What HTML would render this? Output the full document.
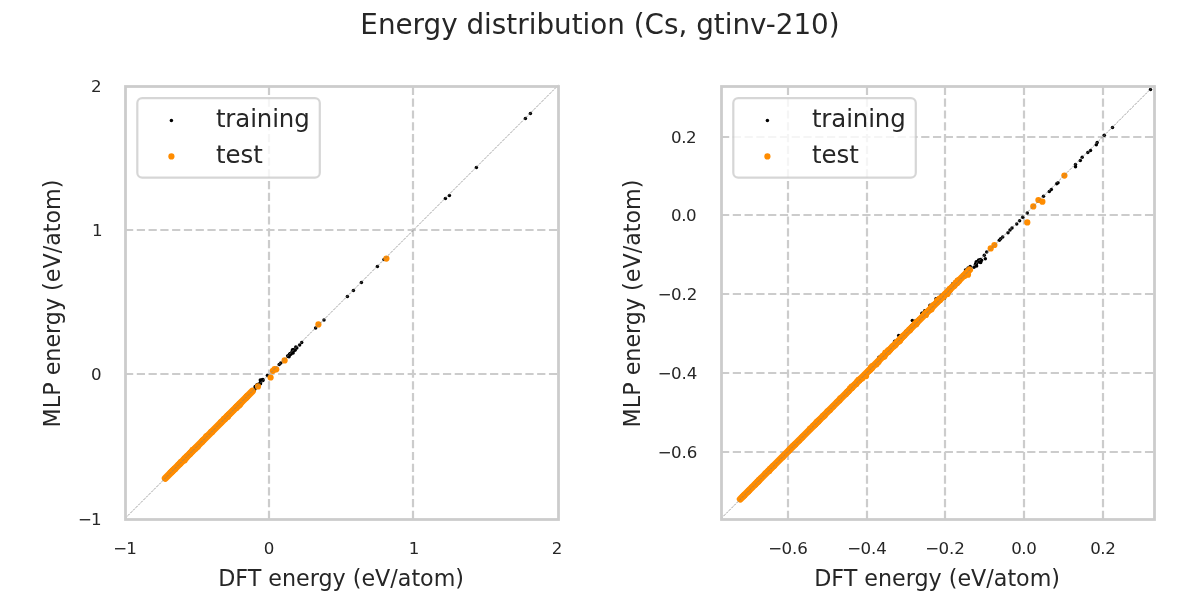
<!DOCTYPE html>
<html lang="en"><head><meta charset="utf-8"><title>Energy distribution (Cs, gtinv-210)</title>
<style>html,body{margin:0;padding:0;background:#fff;}svg{display:block;will-change:transform;}text{font-family:"DejaVu Sans", "Liberation Sans", sans-serif;fill:#262626;}</style>
</head><body>
<svg width="1200" height="600" viewBox="0 0 1200 600">
<rect width="1200" height="600" fill="#ffffff"/>
<text x="600" y="34" font-size="27.8" text-anchor="middle">Energy distribution (Cs, gtinv-210)</text>
<g stroke="#cccccc" stroke-width="2.2" stroke-dasharray="8.22 3.556" fill="none">
<line x1="269" y1="519" x2="269" y2="86"/>
<line x1="413" y1="519" x2="413" y2="86"/>
<line x1="125" y1="230" x2="558" y2="230"/>
<line x1="125" y1="374" x2="558" y2="374"/>
</g>
<g fill="#000000">
<circle cx="347.4" cy="296.4" r="1.75"/>
<circle cx="353.4" cy="290.4" r="1.75"/>
<circle cx="361.4" cy="282.4" r="1.75"/>
<circle cx="377.4" cy="266.4" r="1.75"/>
<circle cx="384" cy="259.6" r="1.75"/>
<circle cx="445.4" cy="198.4" r="1.75"/>
<circle cx="449.4" cy="195.6" r="1.75"/>
<circle cx="476.4" cy="167.4" r="1.75"/>
<circle cx="525.4" cy="118.4" r="1.75"/>
<circle cx="530.4" cy="113.4" r="1.75"/>
<circle cx="315.6" cy="328" r="1.75"/>
<circle cx="324" cy="320" r="1.75"/>
<circle cx="279.2" cy="364.6" r="1.75"/>
<circle cx="280.8" cy="362.9" r="1.75"/>
<circle cx="299.6" cy="345" r="1.75"/>
<circle cx="301.7" cy="342.5" r="1.75"/>
<circle cx="287.6" cy="356.0" r="1.75"/>
<circle cx="288.1" cy="356.3" r="1.75"/>
<circle cx="289.0" cy="356.8" r="1.75"/>
<circle cx="289.2" cy="355.5" r="1.75"/>
<circle cx="289.5" cy="354.2" r="1.75"/>
<circle cx="290.1" cy="353.8" r="1.75"/>
<circle cx="290.8" cy="354.2" r="1.75"/>
<circle cx="290.6" cy="353.8" r="1.75"/>
<circle cx="290.4" cy="353.5" r="1.75"/>
<circle cx="291.8" cy="352.5" r="1.75"/>
<circle cx="292.4" cy="352.6" r="1.75"/>
<circle cx="293.1" cy="353.0" r="1.75"/>
<circle cx="292.3" cy="351.1" r="1.75"/>
<circle cx="292.9" cy="350.9" r="1.75"/>
<circle cx="292.9" cy="350.8" r="1.75"/>
<circle cx="292.5" cy="349.8" r="1.75"/>
<circle cx="293.7" cy="349.8" r="1.75"/>
<circle cx="294.0" cy="349.5" r="1.75"/>
<circle cx="295.0" cy="350.2" r="1.75"/>
<circle cx="294.6" cy="349.6" r="1.75"/>
<circle cx="295.8" cy="347.1" r="1.75"/>
<circle cx="296.8" cy="348.0" r="1.75"/>
<circle cx="250.2" cy="392.9" r="1.75"/>
<circle cx="249.7" cy="392.2" r="1.75"/>
<circle cx="250.6" cy="392.8" r="1.75"/>
<circle cx="251.6" cy="393.3" r="1.75"/>
<circle cx="252.3" cy="389.7" r="1.75"/>
<circle cx="253.3" cy="390.6" r="1.75"/>
<circle cx="252.8" cy="390.0" r="1.75"/>
<circle cx="254.3" cy="390.5" r="1.75"/>
<circle cx="253.9" cy="389.6" r="1.75"/>
<circle cx="254.6" cy="389.1" r="1.75"/>
<circle cx="255.5" cy="388.1" r="1.75"/>
<circle cx="255.6" cy="387.7" r="1.75"/>
<circle cx="255.2" cy="386.4" r="1.75"/>
<circle cx="256.8" cy="387.6" r="1.75"/>
<circle cx="256.8" cy="384.9" r="1.75"/>
<circle cx="257.8" cy="385.5" r="1.75"/>
<circle cx="258.3" cy="385.3" r="1.75"/>
<circle cx="257.8" cy="384.4" r="1.75"/>
<circle cx="258.8" cy="384.3" r="1.75"/>
<circle cx="260.5" cy="383.7" r="1.75"/>
<circle cx="260.3" cy="382.7" r="1.75"/>
<circle cx="260.9" cy="381.2" r="1.75"/>
<circle cx="260.3" cy="379.9" r="1.75"/>
<circle cx="261.6" cy="380.4" r="1.75"/>
<circle cx="261.8" cy="380.6" r="1.75"/>
<circle cx="261.9" cy="380.6" r="1.75"/>
<circle cx="262.0" cy="380.1" r="1.75"/>
<circle cx="262.9" cy="380.4" r="1.75"/>
<circle cx="262.9" cy="379.5" r="1.75"/>
<circle cx="267.4" cy="375.5" r="1.75"/>
</g>

<line x1="165.3" y1="478.3" x2="252.3" y2="391.3" stroke="#ff8c00" stroke-width="7.0" stroke-linecap="round"/>
<g fill="#ff8c00">
<circle cx="170.5" cy="472.5" r="3.1"/>
<circle cx="171.6" cy="472.0" r="3.1"/>
<circle cx="171.8" cy="471.8" r="3.1"/>
<circle cx="172.5" cy="471.3" r="3.1"/>
<circle cx="172.6" cy="470.6" r="3.1"/>
<circle cx="173.9" cy="469.7" r="3.1"/>
<circle cx="174.6" cy="468.9" r="3.1"/>
<circle cx="175.2" cy="468.9" r="3.1"/>
<circle cx="178.4" cy="464.8" r="3.1"/>
<circle cx="179.8" cy="463.9" r="3.1"/>
<circle cx="180.1" cy="463.4" r="3.1"/>
<circle cx="180.8" cy="462.2" r="3.1"/>
<circle cx="184.7" cy="460.3" r="3.1"/>
<circle cx="184.4" cy="459.2" r="3.1"/>
<circle cx="184.6" cy="458.3" r="3.1"/>
<circle cx="186.5" cy="457.8" r="3.1"/>
<circle cx="186.7" cy="456.4" r="3.1"/>
<circle cx="188.7" cy="455.1" r="3.1"/>
<circle cx="190.0" cy="454.0" r="3.1"/>
<circle cx="190.0" cy="453.3" r="3.1"/>
<circle cx="190.7" cy="452.7" r="3.1"/>
<circle cx="191.0" cy="452.3" r="3.1"/>
<circle cx="192.3" cy="451.3" r="3.1"/>
<circle cx="192.6" cy="450.2" r="3.1"/>
<circle cx="192.8" cy="450.2" r="3.1"/>
<circle cx="195.2" cy="448.3" r="3.1"/>
<circle cx="195.7" cy="448.4" r="3.1"/>
<circle cx="197.0" cy="447.0" r="3.1"/>
<circle cx="197.9" cy="446.5" r="3.1"/>
<circle cx="202.0" cy="441.9" r="3.1"/>
<circle cx="202.6" cy="440.7" r="3.1"/>
<circle cx="203.1" cy="440.4" r="3.1"/>
<circle cx="206.3" cy="436.3" r="3.1"/>
<circle cx="206.8" cy="436.3" r="3.1"/>
<circle cx="211.1" cy="432.0" r="3.1"/>
<circle cx="211.8" cy="431.9" r="3.1"/>
<circle cx="212.0" cy="431.9" r="3.1"/>
<circle cx="220.9" cy="422.4" r="3.1"/>
<circle cx="221.0" cy="422.3" r="3.1"/>
<circle cx="224.1" cy="418.8" r="3.1"/>
<circle cx="224.7" cy="418.9" r="3.1"/>
<circle cx="225.1" cy="418.7" r="3.1"/>
<circle cx="225.3" cy="418.6" r="3.1"/>
<circle cx="227.1" cy="416.1" r="3.1"/>
<circle cx="227.8" cy="416.7" r="3.1"/>
<circle cx="227.9" cy="416.2" r="3.1"/>
<circle cx="228.5" cy="415.1" r="3.1"/>
<circle cx="228.5" cy="414.8" r="3.1"/>
<circle cx="229.3" cy="414.2" r="3.1"/>
<circle cx="231.4" cy="412.3" r="3.1"/>
<circle cx="233.3" cy="410.3" r="3.1"/>
<circle cx="235.8" cy="408.0" r="3.1"/>
<circle cx="236.2" cy="407.8" r="3.1"/>
<circle cx="236.5" cy="407.7" r="3.1"/>
<circle cx="236.7" cy="407.4" r="3.1"/>
<circle cx="236.5" cy="407.1" r="3.1"/>
<circle cx="236.9" cy="406.9" r="3.1"/>
<circle cx="236.7" cy="406.7" r="3.1"/>
<circle cx="237.3" cy="406.0" r="3.1"/>
<circle cx="239.2" cy="405.4" r="3.1"/>
<circle cx="239.3" cy="404.1" r="3.1"/>
<circle cx="240.3" cy="404.3" r="3.1"/>
<circle cx="240.0" cy="403.5" r="3.1"/>
<circle cx="241.4" cy="402.3" r="3.1"/>
<circle cx="246.0" cy="398.1" r="3.1"/>
<circle cx="246.4" cy="397.2" r="3.1"/>
<circle cx="246.8" cy="397.0" r="3.1"/>
<circle cx="247.1" cy="396.4" r="3.1"/>
<circle cx="247.0" cy="396.4" r="3.1"/>
<circle cx="247.6" cy="395.9" r="3.1"/>
<circle cx="258" cy="386.4" r="3.1"/>
<circle cx="270.6" cy="377.5" r="3.1"/>
<circle cx="272.9" cy="370.8" r="3.1"/>
<circle cx="276.25" cy="369.3" r="3.1"/>
<circle cx="274.6" cy="369.2" r="3.1"/>
<circle cx="284.6" cy="360.4" r="3.1"/>
<circle cx="318.4" cy="324.4" r="3.1"/>
<circle cx="386.4" cy="258.6" r="3.1"/>
</g>
<line x1="125.25" y1="518.25" x2="558.25" y2="85.25" stroke="#808080" stroke-width="0.75" stroke-dasharray="2.57 1.11"/>
<rect x="125.5" y="86.5" width="433" height="433" fill="none" stroke="#cccccc" stroke-width="2.78"/>
<rect x="137.3" y="98.1" width="182.5" height="79.6" rx="4.9" ry="4.9" fill="#ffffff" fill-opacity="0.8" stroke="#cccccc" stroke-opacity="0.8" stroke-width="2.2"/>
<circle cx="171.4" cy="120.4" r="1.75" fill="#000"/>
<circle cx="171.4" cy="156.4" r="3.1" fill="#ff8c00"/>
<text x="215.9" y="126.7" font-size="24.44" letter-spacing="-0.12">training</text>
<text x="215.9" y="162.8" font-size="24.44">test</text>
<text x="125" y="554" font-size="16.67" text-anchor="middle" dx="0 -1">−1</text>
<text x="269" y="554" font-size="16.67" text-anchor="middle">0</text>
<text x="414" y="554" font-size="16.67" text-anchor="middle">1</text>
<text x="557" y="554" font-size="16.67" text-anchor="middle">2</text>
<text x="101.6" y="525.0" font-size="16.67" text-anchor="end" dx="0 -1">−1</text>
<text x="101.6" y="380.1" font-size="16.67" text-anchor="end">0</text>
<text x="102.6" y="236.1" font-size="16.67" text-anchor="end">1</text>
<text x="101.6" y="92.1" font-size="16.67" text-anchor="end">2</text>
<text x="341.1" y="585.7" font-size="22.22" text-anchor="middle">DFT energy (eV/atom)</text>
<text transform="translate(60,303.5) rotate(-90)" font-size="22.22" text-anchor="middle">MLP energy (eV/atom)</text>
<g stroke="#cccccc" stroke-width="2.2" stroke-dasharray="8.22 3.556" fill="none">
<line x1="788" y1="519" x2="788" y2="86"/>
<line x1="867" y1="519" x2="867" y2="86"/>
<line x1="945" y1="519" x2="945" y2="86"/>
<line x1="1024" y1="519" x2="1024" y2="86"/>
<line x1="1103" y1="519" x2="1103" y2="86"/>
<line x1="721" y1="137" x2="1154" y2="137"/>
<line x1="721" y1="215" x2="1154" y2="215"/>
<line x1="721" y1="294" x2="1154" y2="294"/>
<line x1="721" y1="373" x2="1154" y2="373"/>
<line x1="721" y1="452" x2="1154" y2="452"/>
</g>
<g fill="#000000">
<circle cx="1150.5" cy="89.5" r="1.75"/>
<circle cx="1112.5" cy="127.5" r="1.75"/>
<circle cx="1104.3" cy="135.3" r="1.75"/>
<circle cx="1097.2" cy="142.5" r="1.75"/>
<circle cx="1096.3" cy="144.7" r="1.75"/>
<circle cx="1090.5" cy="150.5" r="1.75"/>
<circle cx="1087.8" cy="152.5" r="1.75"/>
<circle cx="1082.2" cy="157.3" r="1.75"/>
<circle cx="1080.3" cy="160.5" r="1.75"/>
<circle cx="1075.5" cy="164.5" r="1.75"/>
<circle cx="1075.5" cy="166.7" r="1.75"/>
<circle cx="1058" cy="182.7" r="1.75"/>
<circle cx="1056.7" cy="183.7" r="1.75"/>
<circle cx="1051.3" cy="189.6" r="1.75"/>
<circle cx="1049.3" cy="191.6" r="1.75"/>
<circle cx="1043.5" cy="196.3" r="1.75"/>
<circle cx="1027.3" cy="212.9" r="1.75"/>
<circle cx="1022.7" cy="217.3" r="1.75"/>
<circle cx="1019.6" cy="220.7" r="1.75"/>
<circle cx="1016.7" cy="224" r="1.75"/>
<circle cx="1012" cy="228" r="1.75"/>
<circle cx="1010" cy="230" r="1.75"/>
<circle cx="1008" cy="232.7" r="1.75"/>
<circle cx="1002.7" cy="237" r="1.75"/>
<circle cx="1000.7" cy="238.7" r="1.75"/>
<circle cx="999.3" cy="240.3" r="1.75"/>
<circle cx="986.7" cy="252" r="1.75"/>
<circle cx="984.3" cy="255.3" r="1.75"/>
<circle cx="985.3" cy="258.7" r="1.75"/>
<circle cx="978.7" cy="260" r="1.75"/>
<circle cx="980.7" cy="262.4" r="1.75"/>
<circle cx="976" cy="264.7" r="1.75"/>
<circle cx="974" cy="267.3" r="1.75"/>
<circle cx="912.3" cy="320.4" r="1.75"/>
<circle cx="898.7" cy="335.6" r="1.75"/>
<circle cx="894.7" cy="341.3" r="1.75"/>
<circle cx="922.7" cy="313.3" r="1.75"/>
<circle cx="924.7" cy="310.7" r="1.75"/>
<circle cx="930" cy="305.3" r="1.75"/>
<circle cx="936" cy="298.7" r="1.75"/>
<circle cx="941.3" cy="295.3" r="1.75"/>
<circle cx="948.7" cy="288.7" r="1.75"/>
<circle cx="976.6" cy="266.1" r="1.75"/>
<circle cx="975.5" cy="264.3" r="1.75"/>
<circle cx="976.5" cy="263.4" r="1.75"/>
<circle cx="976.1" cy="262.9" r="1.75"/>
<circle cx="976.9" cy="262.8" r="1.75"/>
<circle cx="976.3" cy="261.8" r="1.75"/>
<circle cx="978.2" cy="261.0" r="1.75"/>
<circle cx="980.1" cy="262.2" r="1.75"/>
<circle cx="979.5" cy="261.2" r="1.75"/>
<circle cx="979.7" cy="260.6" r="1.75"/>
<circle cx="980.5" cy="260.2" r="1.75"/>
<circle cx="981.2" cy="260.4" r="1.75"/>
<circle cx="980.5" cy="259.6" r="1.75"/>
<circle cx="981.5" cy="260.3" r="1.75"/>
<circle cx="939.8" cy="299.7" r="1.75"/>
<circle cx="940.7" cy="298.2" r="1.75"/>
<circle cx="941.5" cy="298.4" r="1.75"/>
<circle cx="940.5" cy="297.2" r="1.75"/>
<circle cx="943.8" cy="298.1" r="1.75"/>
<circle cx="944.6" cy="298.0" r="1.75"/>
<circle cx="943.7" cy="294.9" r="1.75"/>
<circle cx="944.1" cy="294.8" r="1.75"/>
<circle cx="946.4" cy="293.0" r="1.75"/>
<circle cx="947.4" cy="293.6" r="1.75"/>
<circle cx="949.6" cy="292.3" r="1.75"/>
<circle cx="948.3" cy="288.9" r="1.75"/>
<circle cx="950.1" cy="287.9" r="1.75"/>
<circle cx="951.3" cy="286.0" r="1.75"/>
<circle cx="952.5" cy="284.8" r="1.75"/>
<circle cx="952.7" cy="283.8" r="1.75"/>
<circle cx="955.4" cy="284.2" r="1.75"/>
<circle cx="955.1" cy="282.1" r="1.75"/>
<circle cx="957.8" cy="283.5" r="1.75"/>
<circle cx="957.4" cy="283.0" r="1.75"/>
<circle cx="956.3" cy="281.1" r="1.75"/>
<circle cx="956.4" cy="281.0" r="1.75"/>
<circle cx="956.7" cy="281.3" r="1.75"/>
<circle cx="958.4" cy="282.8" r="1.75"/>
<circle cx="957.1" cy="280.6" r="1.75"/>
<circle cx="956.7" cy="280.0" r="1.75"/>
<circle cx="957.8" cy="281.1" r="1.75"/>
<circle cx="959.8" cy="279.8" r="1.75"/>
<circle cx="961.1" cy="276.9" r="1.75"/>
<circle cx="964.2" cy="277.3" r="1.75"/>
<circle cx="963.4" cy="276.0" r="1.75"/>
<circle cx="963.7" cy="276.0" r="1.75"/>
<circle cx="962.7" cy="274.9" r="1.75"/>
<circle cx="964.1" cy="274.8" r="1.75"/>
<circle cx="965.7" cy="273.0" r="1.75"/>
<circle cx="965.5" cy="269.9" r="1.75"/>
<circle cx="968.3" cy="271.2" r="1.75"/>
<circle cx="968.1" cy="268.1" r="1.75"/>
<circle cx="969.5" cy="269.4" r="1.75"/>
<circle cx="970.2" cy="266.5" r="1.75"/>
<circle cx="879.0" cy="357.2" r="1.75"/>
<circle cx="880.4" cy="357.0" r="1.75"/>
<circle cx="882.8" cy="355.5" r="1.75"/>
<circle cx="884.6" cy="354.8" r="1.75"/>
<circle cx="888.0" cy="351.0" r="1.75"/>
<circle cx="889.3" cy="351.9" r="1.75"/>
<circle cx="888.3" cy="349.5" r="1.75"/>
<circle cx="890.0" cy="348.7" r="1.75"/>
<circle cx="897.2" cy="342.2" r="1.75"/>
<circle cx="897.6" cy="341.0" r="1.75"/>
<circle cx="900.3" cy="339.4" r="1.75"/>
<circle cx="900.3" cy="337.8" r="1.75"/>
<circle cx="902.1" cy="338.9" r="1.75"/>
<circle cx="901.0" cy="337.5" r="1.75"/>
<circle cx="903.8" cy="336.8" r="1.75"/>
<circle cx="904.9" cy="334.0" r="1.75"/>
<circle cx="907.4" cy="333.7" r="1.75"/>
<circle cx="905.8" cy="331.2" r="1.75"/>
<circle cx="907.2" cy="332.5" r="1.75"/>
<circle cx="909.5" cy="328.9" r="1.75"/>
<circle cx="910.0" cy="329.3" r="1.75"/>
<circle cx="912.0" cy="328.7" r="1.75"/>
<circle cx="910.4" cy="327.0" r="1.75"/>
<circle cx="911.5" cy="325.6" r="1.75"/>
<circle cx="912.3" cy="325.3" r="1.75"/>
<circle cx="916.0" cy="323.4" r="1.75"/>
<circle cx="915.4" cy="321.0" r="1.75"/>
<circle cx="916.9" cy="322.2" r="1.75"/>
<circle cx="916.0" cy="321.2" r="1.75"/>
<circle cx="918.7" cy="318.7" r="1.75"/>
<circle cx="919.6" cy="318.8" r="1.75"/>
<circle cx="920.8" cy="318.7" r="1.75"/>
<circle cx="920.8" cy="317.3" r="1.75"/>
<circle cx="921.0" cy="317.3" r="1.75"/>
<circle cx="923.3" cy="315.7" r="1.75"/>
<circle cx="923.3" cy="315.3" r="1.75"/>
<circle cx="921.9" cy="313.3" r="1.75"/>
<circle cx="923.7" cy="314.7" r="1.75"/>
<circle cx="924.3" cy="314.8" r="1.75"/>
<circle cx="928.6" cy="311.9" r="1.75"/>
<circle cx="932.2" cy="309.7" r="1.75"/>
<circle cx="932.4" cy="307.6" r="1.75"/>
<circle cx="933.2" cy="305.9" r="1.75"/>
<circle cx="934.3" cy="303.3" r="1.75"/>
<circle cx="935.5" cy="303.7" r="1.75"/>
<circle cx="937.6" cy="302.5" r="1.75"/>
<circle cx="938.2" cy="302.6" r="1.75"/>
<circle cx="936.8" cy="300.9" r="1.75"/>
<circle cx="938.3" cy="301.0" r="1.75"/>
<circle cx="939.7" cy="300.4" r="1.75"/>
</g>

<line x1="740.3" y1="499.1" x2="969.5" y2="269.9" stroke="#ff8c00" stroke-width="7.0" stroke-linecap="round"/>
<g fill="#ff8c00">
<circle cx="742.7" cy="496.5" r="3.1"/>
<circle cx="744.1" cy="495.6" r="3.1"/>
<circle cx="744.3" cy="495.1" r="3.1"/>
<circle cx="748.3" cy="491.6" r="3.1"/>
<circle cx="749.2" cy="490.3" r="3.1"/>
<circle cx="752.0" cy="487.3" r="3.1"/>
<circle cx="755.0" cy="484.8" r="3.1"/>
<circle cx="755.8" cy="483.7" r="3.1"/>
<circle cx="757.4" cy="481.9" r="3.1"/>
<circle cx="758.4" cy="481.6" r="3.1"/>
<circle cx="758.9" cy="480.3" r="3.1"/>
<circle cx="759.0" cy="480.1" r="3.1"/>
<circle cx="760.8" cy="478.3" r="3.1"/>
<circle cx="765.5" cy="473.3" r="3.1"/>
<circle cx="768.4" cy="470.8" r="3.1"/>
<circle cx="769.3" cy="470.9" r="3.1"/>
<circle cx="770.1" cy="468.9" r="3.1"/>
<circle cx="771.7" cy="467.7" r="3.1"/>
<circle cx="772.5" cy="466.5" r="3.1"/>
<circle cx="773.3" cy="465.9" r="3.1"/>
<circle cx="774.2" cy="465.8" r="3.1"/>
<circle cx="782.8" cy="457.0" r="3.1"/>
<circle cx="784.4" cy="454.8" r="3.1"/>
<circle cx="789.0" cy="450.4" r="3.1"/>
<circle cx="789.9" cy="449.2" r="3.1"/>
<circle cx="791.7" cy="447.3" r="3.1"/>
<circle cx="792.8" cy="446.2" r="3.1"/>
<circle cx="794.5" cy="444.5" r="3.1"/>
<circle cx="795.2" cy="444.4" r="3.1"/>
<circle cx="799.2" cy="440.5" r="3.1"/>
<circle cx="802.0" cy="437.6" r="3.1"/>
<circle cx="802.7" cy="436.6" r="3.1"/>
<circle cx="810.1" cy="428.7" r="3.1"/>
<circle cx="813.2" cy="426.1" r="3.1"/>
<circle cx="813.4" cy="425.6" r="3.1"/>
<circle cx="815.2" cy="424.6" r="3.1"/>
<circle cx="815.4" cy="424.3" r="3.1"/>
<circle cx="815.4" cy="424.3" r="3.1"/>
<circle cx="816.8" cy="422.4" r="3.1"/>
<circle cx="816.6" cy="422.0" r="3.1"/>
<circle cx="818.3" cy="421.5" r="3.1"/>
<circle cx="818.6" cy="421.3" r="3.1"/>
<circle cx="818.3" cy="420.5" r="3.1"/>
<circle cx="820.1" cy="419.3" r="3.1"/>
<circle cx="823.1" cy="416.8" r="3.1"/>
<circle cx="822.8" cy="416.1" r="3.1"/>
<circle cx="824.7" cy="415.5" r="3.1"/>
<circle cx="824.3" cy="415.0" r="3.1"/>
<circle cx="827.5" cy="411.4" r="3.1"/>
<circle cx="829.9" cy="410.1" r="3.1"/>
<circle cx="833.2" cy="406.4" r="3.1"/>
<circle cx="836.8" cy="402.4" r="3.1"/>
<circle cx="839.4" cy="400.4" r="3.1"/>
<circle cx="840.3" cy="398.3" r="3.1"/>
<circle cx="846.0" cy="394.1" r="3.1"/>
<circle cx="847.1" cy="392.0" r="3.1"/>
<circle cx="847.7" cy="391.8" r="3.1"/>
<circle cx="847.7" cy="391.5" r="3.1"/>
<circle cx="848.0" cy="391.6" r="3.1"/>
<circle cx="848.8" cy="390.9" r="3.1"/>
<circle cx="850.1" cy="388.4" r="3.1"/>
<circle cx="851.7" cy="387.9" r="3.1"/>
<circle cx="852.3" cy="387.4" r="3.1"/>
<circle cx="851.7" cy="386.7" r="3.1"/>
<circle cx="854.3" cy="385.1" r="3.1"/>
<circle cx="855.9" cy="383.8" r="3.1"/>
<circle cx="856.3" cy="384.0" r="3.1"/>
<circle cx="857.3" cy="381.3" r="3.1"/>
<circle cx="859.3" cy="380.6" r="3.1"/>
<circle cx="858.6" cy="379.8" r="3.1"/>
<circle cx="859.2" cy="379.9" r="3.1"/>
<circle cx="859.9" cy="379.4" r="3.1"/>
<circle cx="862.4" cy="378.3" r="3.1"/>
<circle cx="866.1" cy="376.1" r="3.1"/>
<circle cx="868.4" cy="371.3" r="3.1"/>
<circle cx="869.2" cy="370.7" r="3.1"/>
<circle cx="870.7" cy="369.6" r="3.1"/>
<circle cx="871.0" cy="367.3" r="3.1"/>
<circle cx="872.1" cy="367.9" r="3.1"/>
<circle cx="872.3" cy="366.1" r="3.1"/>
<circle cx="876.5" cy="364.3" r="3.1"/>
<circle cx="878.5" cy="362.1" r="3.1"/>
<circle cx="882.9" cy="356.9" r="3.1"/>
<circle cx="882.5" cy="356.2" r="3.1"/>
<circle cx="884.4" cy="356.4" r="3.1"/>
<circle cx="884.2" cy="355.4" r="3.1"/>
<circle cx="884.4" cy="355.1" r="3.1"/>
<circle cx="884.8" cy="355.1" r="3.1"/>
<circle cx="885.4" cy="352.6" r="3.1"/>
<circle cx="887.4" cy="352.3" r="3.1"/>
<circle cx="888.6" cy="351.7" r="3.1"/>
<circle cx="888.6" cy="351.1" r="3.1"/>
<circle cx="888.6" cy="351.0" r="3.1"/>
<circle cx="888.2" cy="350.4" r="3.1"/>
<circle cx="890.0" cy="349.9" r="3.1"/>
<circle cx="890.6" cy="349.0" r="3.1"/>
<circle cx="891.4" cy="348.0" r="3.1"/>
<circle cx="892.5" cy="346.4" r="3.1"/>
<circle cx="894.0" cy="346.2" r="3.1"/>
<circle cx="895.5" cy="344.9" r="3.1"/>
<circle cx="896.1" cy="343.7" r="3.1"/>
<circle cx="898.1" cy="342.0" r="3.1"/>
<circle cx="899.3" cy="341.2" r="3.1"/>
<circle cx="900.2" cy="340.6" r="3.1"/>
<circle cx="901.4" cy="338.2" r="3.1"/>
<circle cx="901.8" cy="337.4" r="3.1"/>
<circle cx="902.6" cy="336.4" r="3.1"/>
<circle cx="903.0" cy="336.4" r="3.1"/>
<circle cx="904.4" cy="335.5" r="3.1"/>
<circle cx="909.9" cy="330.3" r="3.1"/>
<circle cx="909.4" cy="329.6" r="3.1"/>
<circle cx="910.5" cy="329.0" r="3.1"/>
<circle cx="915.2" cy="323.3" r="3.1"/>
<circle cx="916.3" cy="324.2" r="3.1"/>
<circle cx="915.8" cy="323.3" r="3.1"/>
<circle cx="916.7" cy="323.0" r="3.1"/>
<circle cx="917.3" cy="321.5" r="3.1"/>
<circle cx="924.6" cy="314.6" r="3.1"/>
<circle cx="924.8" cy="314.0" r="3.1"/>
<circle cx="925.9" cy="315.0" r="3.1"/>
<circle cx="926.0" cy="313.7" r="3.1"/>
<circle cx="925.9" cy="313.4" r="3.1"/>
<circle cx="926.1" cy="312.5" r="3.1"/>
<circle cx="926.3" cy="312.6" r="3.1"/>
<circle cx="930.4" cy="309.5" r="3.1"/>
<circle cx="931.5" cy="309.3" r="3.1"/>
<circle cx="931.4" cy="306.8" r="3.1"/>
<circle cx="933.5" cy="305.1" r="3.1"/>
<circle cx="937.1" cy="302.2" r="3.1"/>
<circle cx="937.4" cy="301.4" r="3.1"/>
<circle cx="937.3" cy="300.7" r="3.1"/>
<circle cx="939.1" cy="300.4" r="3.1"/>
<circle cx="940.1" cy="300.0" r="3.1"/>
<circle cx="939.5" cy="298.5" r="3.1"/>
<circle cx="941.8" cy="297.8" r="3.1"/>
<circle cx="943.4" cy="296.8" r="3.1"/>
<circle cx="944.9" cy="295.3" r="3.1"/>
<circle cx="945.1" cy="294.0" r="3.1"/>
<circle cx="947.5" cy="293.9" r="3.1"/>
<circle cx="950.0" cy="289.9" r="3.1"/>
<circle cx="949.8" cy="288.9" r="3.1"/>
<circle cx="954.4" cy="285.8" r="3.1"/>
<circle cx="955.9" cy="282.5" r="3.1"/>
<circle cx="957.2" cy="283.0" r="3.1"/>
<circle cx="957.8" cy="280.5" r="3.1"/>
<circle cx="958.8" cy="281.2" r="3.1"/>
<circle cx="958.8" cy="280.1" r="3.1"/>
<circle cx="964.5" cy="275.9" r="3.1"/>
<circle cx="965.6" cy="274.4" r="3.1"/>
<circle cx="966.1" cy="273.6" r="3.1"/>
<circle cx="1064.4" cy="175.6" r="3.1"/>
<circle cx="1038.4" cy="200" r="3.1"/>
<circle cx="1042.4" cy="201.7" r="3.1"/>
<circle cx="1033.3" cy="206.4" r="3.1"/>
<circle cx="1027.3" cy="222.4" r="3.1"/>
<circle cx="994.4" cy="245" r="3.1"/>
<circle cx="990.7" cy="248.4" r="3.1"/>
<circle cx="968" cy="274.7" r="3.1"/>
</g>
<line x1="721" y1="518.6" x2="1154" y2="85.6" stroke="#808080" stroke-width="0.75" stroke-dasharray="2.57 1.11"/>
<rect x="721.5" y="86.5" width="433" height="433" fill="none" stroke="#cccccc" stroke-width="2.78"/>
<rect x="733.3" y="98.1" width="182.5" height="79.6" rx="4.9" ry="4.9" fill="#ffffff" fill-opacity="0.8" stroke="#cccccc" stroke-opacity="0.8" stroke-width="2.2"/>
<circle cx="767.4" cy="120.4" r="1.75" fill="#000"/>
<circle cx="767.4" cy="156.4" r="3.1" fill="#ff8c00"/>
<text x="811.9" y="126.7" font-size="24.44" letter-spacing="-0.12">training</text>
<text x="811.9" y="162.8" font-size="24.44">test</text>
<text x="788" y="554" font-size="16.67" text-anchor="middle" dx="0 -0.6 -0.1 -0.1">−0.6</text>
<text x="867" y="554" font-size="16.67" text-anchor="middle" dx="0 -0.6 -0.1 -0.1">−0.4</text>
<text x="945" y="554" font-size="16.67" text-anchor="middle" dx="0 -0.6 -0.1 -0.1">−0.2</text>
<text x="1024" y="554" font-size="16.67" text-anchor="middle" dx="0 -0.5 -0.5">0.0</text>
<text x="1103" y="554" font-size="16.67" text-anchor="middle" dx="0 -0.5 -0.5">0.2</text>
<text x="697.4" y="458.1" font-size="16.67" text-anchor="end" dx="0 -0.6 -0.1 -0.1">−0.6</text>
<text x="697.4" y="379.1" font-size="16.67" text-anchor="end" dx="0 -0.6 -0.1 -0.1">−0.4</text>
<text x="697.4" y="300.1" font-size="16.67" text-anchor="end" dx="0 -0.6 -0.1 -0.1">−0.2</text>
<text x="696.6" y="221.1" font-size="16.67" text-anchor="end" dx="0 -0.5 -0.5">0.0</text>
<text x="696.6" y="143.1" font-size="16.67" text-anchor="end" dx="0 -0.5 -0.5">0.2</text>
<text x="937.1" y="585.7" font-size="22.22" text-anchor="middle">DFT energy (eV/atom)</text>
<text transform="translate(640,303.5) rotate(-90)" font-size="22.22" text-anchor="middle">MLP energy (eV/atom)</text>
</svg>
</body></html>
